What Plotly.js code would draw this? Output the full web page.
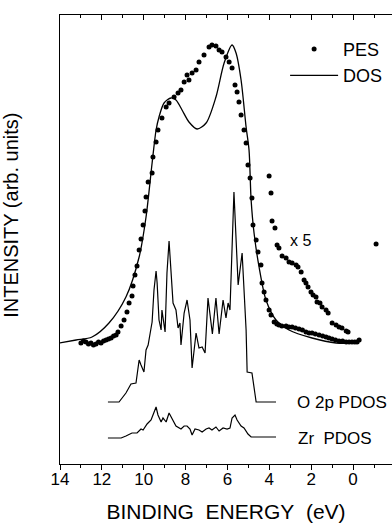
<!DOCTYPE html>
<html>
<head>
<meta charset="utf-8">
<script src="https://cdn.plot.ly/plotly-3.0.1.min.js"></script>
<style>html,body{margin:0;padding:0;background:#fff;}#chart{width:392px;height:523px;}</style>
</head>
<body>
<div id="chart"></div>
<script>
// Binding energy (eV) and intensity (arb. units)
const dosE = [14.05,13.23,12.47,11.66,10.85,10.22,9.89,9.60,9.41,9.27,9.03,8.70,8.46,8.17,7.84,7.45,7.02,6.55,6.16,5.78,5.59,5.35,5.11,4.97,4.87,4.73,4.49,4.16,3.68,3.06,1.96,0.81,-0.29];
const dosI = [121,124,127,141,167,207,247,301,334,347,361,366,364,354,342,335,341,367,401,419,411,384,337,314,264,231,197,164,144,134,126,121,121];

const pesE = [13.00,12.88,12.76,12.64,12.52,12.40,12.28,12.16,12.04,11.92,11.80,11.68,11.56,11.44,11.32,11.23,11.08,10.94,10.80,10.70,10.56,10.51,10.42,10.32,10.22,10.13,10.03,9.94,9.89,9.79,9.60,9.56,9.41,9.32,9.13,8.93,8.79,8.55,8.36,8.22,8.07,7.93,7.84,7.69,7.50,7.36,7.12,6.88,6.74,6.55,6.40,6.26,6.07,5.92,5.78,5.64,5.54,5.45,5.35,5.21,5.11,5.02,4.92,4.83,4.78,4.63,4.54,4.40,4.35,4.25,4.16,4.01,3.92,3.77,3.64,3.54,3.40,3.20,3.06,2.91,2.75,2.58,2.42,2.25,2.10,1.96,1.80,1.62,1.45,1.29,1.15,1.00,0.84,0.67,0.50,0.33,0.19,0.05,-0.08,-0.19,-0.29];
const pesI = [121,123,122,120,121,119,120,122,121,123,124,125,126,128,129,132,138,144,152,161,168,178,189,198,214,225,239,253,267,282,291,307,322,334,346,357,361,367,371,374,382,389,384,391,394,402,409,417,419,418,414,412,407,402,396,379,372,362,349,334,321,299,286,266,239,224,212,199,181,172,164,154,149,142,140,139,138,138,137,137,136,135,134,132,131,131,130,129,128,127,126,125,124,123,123,122,122,122,122,122,124];

const x5E = [4.01,3.92,3.87,3.73,3.63,3.54,3.39,3.20,3.06,2.91,2.72,2.63,2.48,2.34,2.25,2.15,2.01,1.91,1.77,1.72,1.58,1.48,1.29,1.19,1.00,0.81,0.67,0.53,0.33,0.24,-1.10];
const x5I = [288,271,243,236,219,216,208,206,202,201,199,197,192,184,181,177,172,169,167,162,161,157,154,151,141,139,137,136,133,132,220];

const o2pE = [11.71,11.18,10.85,10.61,10.37,10.22,10.13,9.99,9.89,9.79,9.65,9.60,9.51,9.41,9.36,9.27,9.17,9.13,8.98,8.89,8.79,8.70,8.60,8.46,8.36,8.27,8.22,8.07,7.93,7.79,7.69,7.50,7.36,7.21,7.07,6.93,6.72,6.55,6.40,6.21,6.07,5.97,5.88,5.69,5.49,5.30,5.11,5.06,4.83,4.63,3.68];
const o2pI = [62,62,71,80,81,104,99,92,114,119,136,142,174,193,181,144,134,154,132,191,223,189,161,154,136,141,119,151,164,144,96,131,116,117,111,166,130,166,130,164,146,161,154,272,179,211,134,92,91,62,62];

const zrE = [11.71,11.08,10.85,10.56,10.32,10.13,10.03,9.84,9.65,9.51,9.41,9.32,9.17,9.08,8.93,8.79,8.65,8.46,8.22,8.07,7.93,7.79,7.69,7.55,7.36,7.21,7.02,6.88,6.74,6.55,6.40,6.21,6.02,5.88,5.78,5.64,5.54,5.35,5.21,5.02,4.87,3.68];
const zrI = [26,26,28,31,31,35,34,40,44,51,57,49,42,46,42,51,45,38,35,38,38,35,29,35,34,32,35,36,34,37,33,36,35,36,46,49,44,38,36,30,27,27];

const xTicks = [14,12,10,8,6,4,2,0];

const lineStyle = {color:'#000', width:1.2};
const traces = [
  {x:pesE, y:pesI, type:'scatter', mode:'markers', name:'PES', marker:{color:'#000', size:5}},
  {x:dosE, y:dosI, type:'scatter', mode:'lines', name:'DOS', line:{color:'#000', width:1.3, shape:'spline', smoothing:0.8}},
  {x:x5E, y:x5I, type:'scatter', mode:'markers', name:'x 5', showlegend:false, marker:{color:'#000', size:5}},
  {x:o2pE, y:o2pI, type:'scatter', mode:'lines', name:'O 2p PDOS', showlegend:false, line:lineStyle},
  {x:zrE, y:zrI, type:'scatter', mode:'lines', name:'Zr PDOS', showlegend:false, line:lineStyle},
  {x:[14], y:[0], type:'scatter', mode:'markers', xaxis:'x2', showlegend:false, hoverinfo:'skip', marker:{opacity:0}}
];

const fnt = 'Liberation Sans, Arial, Helvetica, sans-serif';
const layout = {
  width:392, height:523,
  margin:{l:60, r:0, t:15, b:59},
  paper_bgcolor:'#fff', plot_bgcolor:'#fff',
  font:{family:fnt, color:'#000'},
  showlegend:true,
  legend:{x:0.678, y:0.965, xanchor:'left', yanchor:'top', bgcolor:'rgba(0,0,0,0)', font:{size:18, family:fnt}, tracegroupgap:0, itemwidth:48},
  xaxis:{range:[14,-1.86], showgrid:false, zeroline:false, showline:true, linecolor:'#000', linewidth:1,
         ticks:'outside', ticklen:5, tickwidth:1, tickcolor:'#000', tickvals:xTicks, ticktext:xTicks.map(String),
         ticklabelstandoff:-5,
         tickfont:{size:17, family:fnt}, minor:{dtick:1, ticks:'outside', ticklen:3, tickcolor:'#000'},
         title:{text:'BINDING\u00a0\u00a0ENERGY\u00a0\u00a0(eV)', font:{size:21, family:fnt}, standoff:16}},
  xaxis2:{overlaying:'x', matches:'x', side:'top', showgrid:false, zeroline:false, showline:true, linecolor:'#000', linewidth:1,
          ticks:'inside', ticklen:5, tickcolor:'#000', tickvals:xTicks, showticklabels:false,
          minor:{dtick:1, ticks:'inside', ticklen:3, tickcolor:'#000'}},
  yaxis:{range:[0,449], showgrid:false, zeroline:false, showline:true, linecolor:'#000', linewidth:1,
         ticks:'', showticklabels:false},
  annotations:[
    {x:-0.146, y:0.554, xref:'paper', yref:'paper', text:'INTENSITY (arb. units)', textangle:-90, showarrow:false,
     xanchor:'center', yanchor:'middle', font:{size:20, family:fnt}},
    {x:2.52, y:224, xref:'x', yref:'y', text:'x 5', showarrow:false, font:{size:16, family:fnt}},
    {x:2.76, y:62, xref:'x', yref:'y', text:'O 2p PDOS', xanchor:'left', showarrow:false, font:{size:17, family:fnt}},
    {x:2.71, y:26, xref:'x', yref:'y', text:'Zr\u00a0\u00a0PDOS', xanchor:'left', showarrow:false, font:{size:17, family:fnt}}
  ]
};
Plotly.newPlot('chart', traces, layout, {displayModeBar:false, staticPlot:true});
</script>
</body>
</html>
